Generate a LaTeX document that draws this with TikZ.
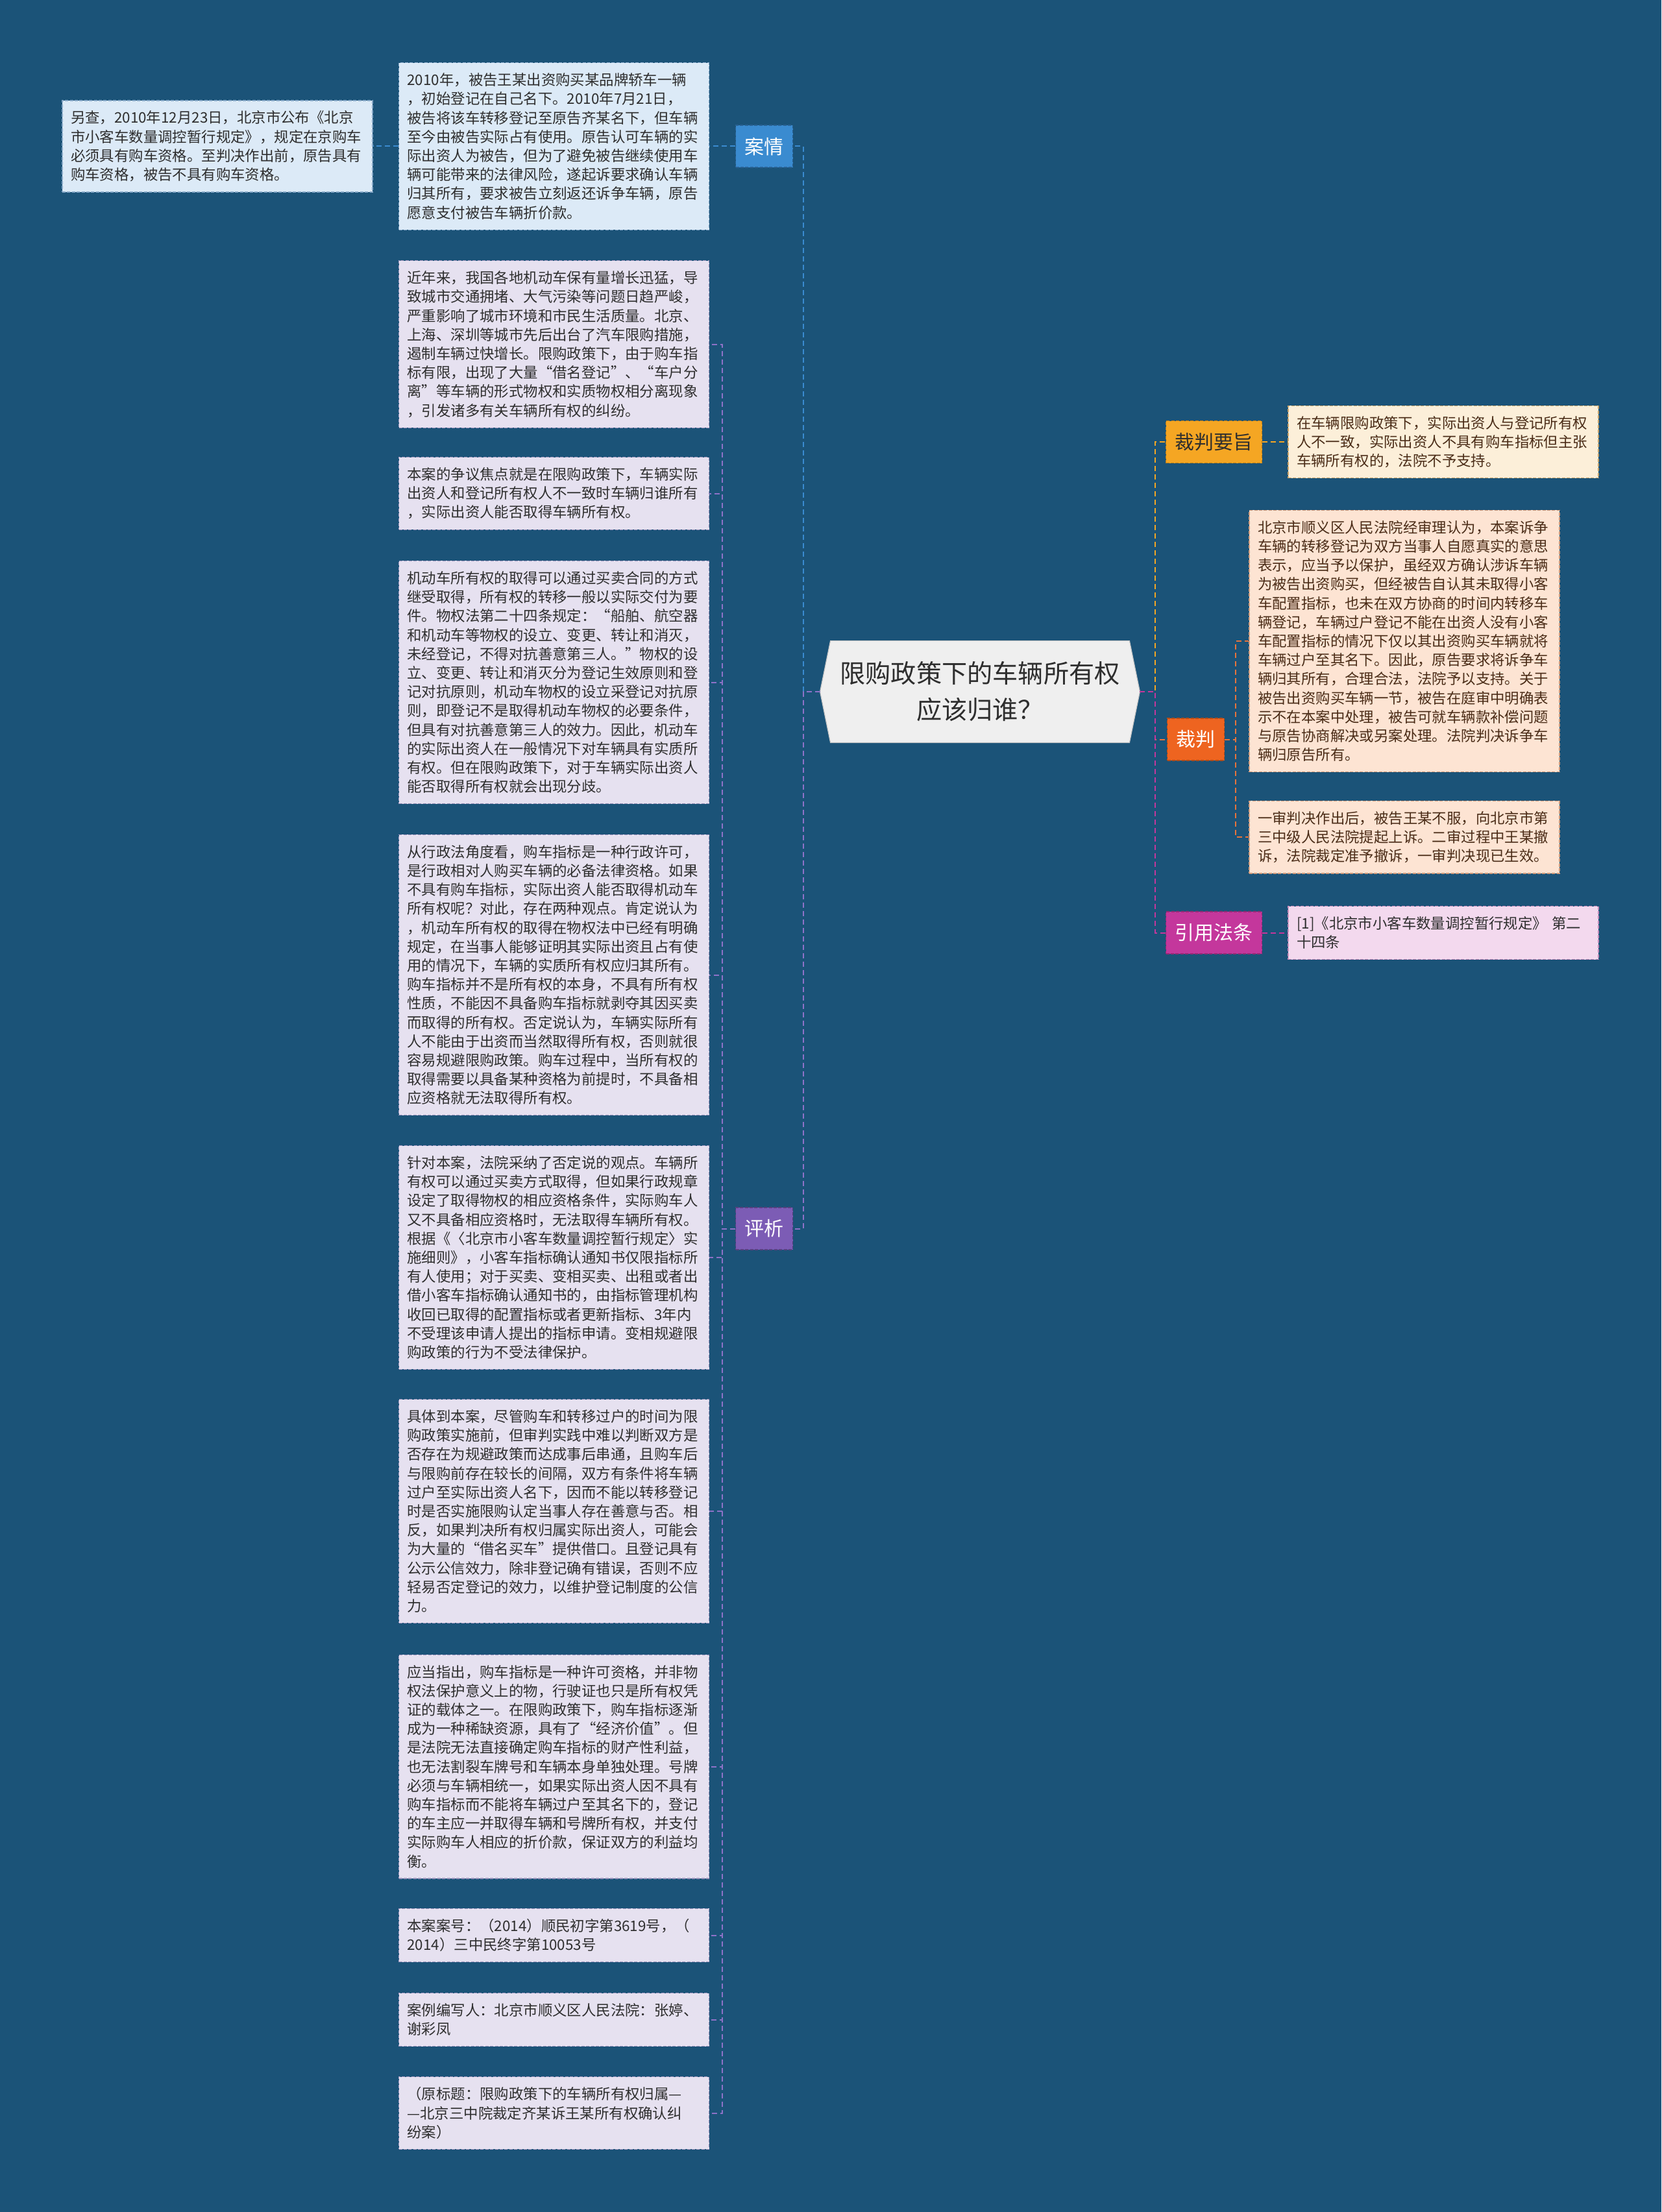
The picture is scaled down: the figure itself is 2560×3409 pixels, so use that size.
\documentclass[tikz,border=0pt]{standalone}
\usepackage{fontspec}
\setmainfont{Noto Sans CJK SC}
\usetikzlibrary{backgrounds}
\definecolor{bgc}{HTML}{1B5378}
\definecolor{rootfill}{HTML}{EFEFEF}
\definecolor{rootline}{HTML}{C8C8C8}
\definecolor{textdark}{HTML}{2E2E2E}
\definecolor{browntext}{HTML}{4A2C17}
\definecolor{bluelab}{HTML}{3A8BD0}
\definecolor{bluefill}{HTML}{DCEAF7}
\definecolor{blueline}{HTML}{86A8C8}
\definecolor{purlab}{HTML}{7C5CB5}
\definecolor{purfill}{HTML}{E6E1F0}
\definecolor{purline}{HTML}{9C94BC}
\definecolor{purconn}{HTML}{8E72C8}
\definecolor{yellab}{HTML}{F5A623}
\definecolor{yelfill}{HTML}{FCEFD9}
\definecolor{yelline}{HTML}{C9A36A}
\definecolor{redlab}{HTML}{EE6420}
\definecolor{redfill}{HTML}{FDE4D3}
\definecolor{redline}{HTML}{D39C7C}
\definecolor{redconn}{HTML}{E8743B}
\definecolor{maglab}{HTML}{C4379C}
\definecolor{magfill}{HTML}{F3D9EE}
\definecolor{magline}{HTML}{C68CBA}
\begin{document}
\begin{tikzpicture}[x=0.5pt,y=-0.5pt,
  basebox/.style={rectangle, line width=0.6pt, dash pattern=on 2.5pt off 1.2pt,
    text width=226pt, align=left, inner xsep=6.5pt, inner ysep=8pt,
    font=\fontsize{11.2pt}{14.6pt}\selectfont},
  bluebox/.style={basebox, fill=bluefill, draw=blueline, text=textdark},
  purbox/.style={basebox, fill=purfill, draw=purline, text=textdark},
  yelbox/.style={basebox, fill=yelfill, draw=yelline, text=browntext},
  redbox/.style={basebox, fill=redfill, draw=redline, text=browntext},
  magbox/.style={basebox, fill=magfill, draw=magline, text=textdark},
  lab/.style={rectangle, line width=0.6pt, dash pattern=on 2.5pt off 1.2pt,
    minimum height=32.5pt, inner xsep=7pt, inner ysep=2pt,
    font=\fontsize{15pt}{18pt}\selectfont},
  conn/.style={line width=1pt, dash pattern=on 4pt off 2.5pt},
  roottext/.style={minimum width=246pt, minimum height=78pt, align=center,
    text=textdark, font=\fontsize{19.6pt}{28pt}\selectfont, inner sep=0pt}
]
\useasboundingbox (0,0) rectangle (2560,3409);

% central topic
\node[roottext] (root) at (1510,1066) {限购政策下的车辆所有权\\应该归谁？};
\begin{scope}[on background layer]
\fill[bgc] (0,0) rectangle (2560,3409);
\filldraw[fill=rootfill, draw=rootline, line width=0.6pt]
  (root.west) -- ([xshift=8pt]root.north west) -- ([xshift=-8pt]root.north east)
  -- (root.east) -- ([xshift=-8pt]root.south east) -- ([xshift=8pt]root.south west) -- cycle;
\end{scope}

% left main labels
\node[lab, fill=bluelab, draw=bluelab!70!black, text=white] (anqing) at (1177.5,225.5) {案情};
\node[lab, fill=purlab, draw=purlab!70!black, text=white] (pingxi) at (1177.5,1893.5) {评析};

% right main labels
\node[lab, fill=yellab, draw=yellab!75!black, text=textdark] (yaozhi) at (1870.5,681) {裁判要旨};
\node[lab, fill=redlab, draw=redlab!75!black, text=white] (caipan) at (1842.5,1139.5) {裁判};
\node[lab, fill=maglab, draw=maglab!75!black, text=white] (yinyong) at (1870.5,1437.5) {引用法条};

% case
\node[bluebox] (aqbox) at (853.5,225.5) {2010年，被告王某出资购买某品牌轿车一辆\\，初始登记在自己名下。2010年7月21日，\\被告将该车转移登记至原告齐某名下，但车辆\\至今由被告实际占有使用。原告认可车辆的实\\际出资人为被告，但为了避免被告继续使用车\\辆可能带来的法律风险，遂起诉要求确认车辆\\归其所有，要求被告立刻返还诉争车辆，原告\\愿意支付被告车辆折价款。};
\node[bluebox] (note) at (335,225.5) {另查，2010年12月23日，北京市公布《北京\\市小客车数量调控暂行规定》，规定在京购车\\必须具有购车资格。至判决作出前，原告具有\\购车资格，被告不具有购车资格。};

% analysis
\node[purbox] (b1) at (853.5,530.5) {近年来，我国各地机动车保有量增长迅猛，导\\致城市交通拥堵、大气污染等问题日趋严峻，\\严重影响了城市环境和市民生活质量。北京、\\上海、深圳等城市先后出台了汽车限购措施，\\遏制车辆过快增长。限购政策下，由于购车指\\标有限，出现了大量“借名登记”、“车户分\\离”等车辆的形式物权和实质物权相分离现象\\，引发诸多有关车辆所有权的纠纷。};
\node[purbox] (b2) at (853.5,760.5) {本案的争议焦点就是在限购政策下，车辆实际\\出资人和登记所有权人不一致时车辆归谁所有\\，实际出资人能否取得车辆所有权。};
\node[purbox] (b3) at (853.5,1051.5) {机动车所有权的取得可以通过买卖合同的方式\\继受取得，所有权的转移一般以实际交付为要\\件。物权法第二十四条规定：“船舶、航空器\\和机动车等物权的设立、变更、转让和消灭，\\未经登记，不得对抗善意第三人。”物权的设\\立、变更、转让和消灭分为登记生效原则和登\\记对抗原则，机动车物权的设立采登记对抗原\\则，即登记不是取得机动车物权的必要条件，\\但具有对抗善意第三人的效力。因此，机动车\\的实际出资人在一般情况下对车辆具有实质所\\有权。但在限购政策下，对于车辆实际出资人\\能否取得所有权就会出现分歧。};
\node[purbox] (b4) at (853.5,1502.5) {从行政法角度看，购车指标是一种行政许可，\\是行政相对人购买车辆的必备法律资格。如果\\不具有购车指标，实际出资人能否取得机动车\\所有权呢？对此，存在两种观点。肯定说认为\\，机动车所有权的取得在物权法中已经有明确\\规定，在当事人能够证明其实际出资且占有使\\用的情况下，车辆的实质所有权应归其所有。\\购车指标并不是所有权的本身，不具有所有权\\性质，不能因不具备购车指标就剥夺其因买卖\\而取得的所有权。否定说认为，车辆实际所有\\人不能由于出资而当然取得所有权，否则就很\\容易规避限购政策。购车过程中，当所有权的\\取得需要以具备某种资格为前提时，不具备相\\应资格就无法取得所有权。};
\node[purbox] (b5) at (853.5,1938) {针对本案，法院采纳了否定说的观点。车辆所\\有权可以通过买卖方式取得，但如果行政规章\\设定了取得物权的相应资格条件，实际购车人\\又不具备相应资格时，无法取得车辆所有权。\\根据《〈北京市小客车数量调控暂行规定〉实\\施细则》，小客车指标确认通知书仅限指标所\\有人使用；对于买卖、变相买卖、出租或者出\\借小客车指标确认通知书的，由指标管理机构\\收回已取得的配置指标或者更新指标、3年内\\不受理该申请人提出的指标申请。变相规避限\\购政策的行为不受法律保护。};
\node[purbox] (b6) at (853.5,2329) {具体到本案，尽管购车和转移过户的时间为限\\购政策实施前，但审判实践中难以判断双方是\\否存在为规避政策而达成事后串通，且购车后\\与限购前存在较长的间隔，双方有条件将车辆\\过户至实际出资人名下，因而不能以转移登记\\时是否实施限购认定当事人存在善意与否。相\\反，如果判决所有权归属实际出资人，可能会\\为大量的“借名买车”提供借口。且登记具有\\公示公信效力，除非登记确有错误，否则不应\\轻易否定登记的效力，以维护登记制度的公信\\力。};
\node[purbox] (b7) at (853.5,2722.5) {应当指出，购车指标是一种许可资格，并非物\\权法保护意义上的物，行驶证也只是所有权凭\\证的载体之一。在限购政策下，购车指标逐渐\\成为一种稀缺资源，具有了“经济价值”。但\\是法院无法直接确定购车指标的财产性利益，\\也无法割裂车牌号和车辆本身单独处理。号牌\\必须与车辆相统一，如果实际出资人因不具有\\购车指标而不能将车辆过户至其名下的，登记\\的车主应一并取得车辆和号牌所有权，并支付\\实际购车人相应的折价款，保证双方的利益均\\衡。};
\node[purbox] (b8) at (853.5,2982.5) {本案案号：（2014）顺民初字第3619号，（\\2014）三中民终字第10053号};
\node[purbox] (b9) at (853.5,3112.5) {案例编写人：北京市顺义区人民法院：张婷、\\谢彩凤};
\node[purbox] (b10) at (853.5,3256.5) {（原标题：限购政策下的车辆所有权归属—\\—北京三中院裁定齐某诉王某所有权确认纠\\纷案）};

% right contents
\node[yelbox] (yzbox) at (2224,681) {在车辆限购政策下，实际出资人与登记所有权\\人不一致，实际出资人不具有购车指标但主张\\车辆所有权的，法院不予支持。};
\node[redbox] (cp1) at (2164,988) {北京市顺义区人民法院经审理认为，本案诉争\\车辆的转移登记为双方当事人自愿真实的意思\\表示，应当予以保护，虽经双方确认涉诉车辆\\为被告出资购买，但经被告自认其未取得小客\\车配置指标，也未在双方协商的时间内转移车\\辆登记，车辆过户登记不能在出资人没有小客\\车配置指标的情况下仅以其出资购买车辆就将\\车辆过户至其名下。因此，原告要求将诉争车\\辆归其所有，合理合法，法院予以支持。关于\\被告出资购买车辆一节，被告在庭审中明确表\\示不在本案中处理，被告可就车辆款补偿问题\\与原告协商解决或另案处理。法院判决诉争车\\辆归原告所有。};
\node[redbox] (cp2) at (2164,1290) {一审判决作出后，被告王某不服，向北京市第\\三中级人民法院提起上诉。二审过程中王某撤\\诉，法院裁定准予撤诉，一审判决现已生效。};
\node[magbox] (yybox) at (2224,1437.5) {[1]《北京市小客车数量调控暂行规定》 第二\\十四条};

% connectors left
\draw[conn, bluelab] (root.west) -- ++(-26,0) |- (anqing.east);
\draw[conn, purconn] (root.west) -- ++(-26,0) |- (pingxi.east);
\draw[conn, bluelab] (anqing.west) -- (aqbox.east);
\draw[conn, bluelab] (aqbox.west) -- (note.east);
\foreach \b in {b1,b2,b3,b4,b5,b6,b7,b8,b9,b10}
  \draw[conn, purconn] (pingxi.west) -- ++(-20,0) |- (\b.east);

% connectors right
\draw[conn, yellab] (root.east) -- ++(24,0) |- (yaozhi.west);
\draw[conn, redconn] (root.east) -- ++(24,0) |- (caipan.west);
\draw[conn, maglab] (root.east) -- ++(24,0) |- (yinyong.west);
\draw[conn, yellab] (yaozhi.east) -- (yzbox.west);
\draw[conn, redconn] (caipan.east) -- ++(17,0) |- (cp1.west);
\draw[conn, redconn] (caipan.east) -- ++(17,0) |- (cp2.west);
\draw[conn, maglab] (yinyong.east) -- (yybox.west);
\end{tikzpicture}
\end{document}
